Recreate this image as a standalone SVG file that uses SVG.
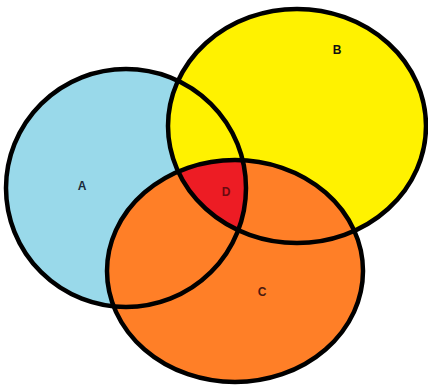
<svg xmlns="http://www.w3.org/2000/svg" width="428" height="386" viewBox="0 0 428 386">
<style>
.ol{fill:none;stroke:#000;stroke-width:4.5}
.lb{font-family:"Liberation Sans",Arial,sans-serif;font-weight:bold;font-size:12px;text-anchor:middle}
</style>
<defs>
<clipPath id="clipA"><ellipse cx="126" cy="188" rx="120" ry="119"/></clipPath>
<clipPath id="clipB"><ellipse cx="297" cy="126" rx="129" ry="117"/></clipPath>
</defs>
<rect width="428" height="386" fill="#fff"/>
<g id="A">
<ellipse cx="126" cy="188" rx="120" ry="119" fill="#99D9EA"/>
<text class="lb" x="82" y="190" fill="#1a2a3a">A</text>
</g>
<g id="B">
<ellipse cx="297" cy="126" rx="129" ry="117" fill="#FFF200"/>
<text class="lb" x="337" y="54" fill="#111">B</text>
</g>
<g id="C">
<ellipse cx="235" cy="271" rx="128" ry="111" fill="#FF7F27"/>
<text class="lb" x="262" y="296" fill="#4a1a10">C</text>
</g>
<g id="D">
<g clip-path="url(#clipA)"><ellipse cx="235" cy="271" rx="128" ry="111" fill="#ED1C24" clip-path="url(#clipB)"/></g>
<text class="lb" x="226" y="196" fill="#6a0a10">D</text>
</g>
<g id="connectors">
<ellipse class="ol" cx="126" cy="188" rx="120" ry="119"/>
<ellipse class="ol" cx="297" cy="126" rx="129" ry="117"/>
<ellipse class="ol" cx="235" cy="271" rx="128" ry="111"/>
</g>
</svg>
